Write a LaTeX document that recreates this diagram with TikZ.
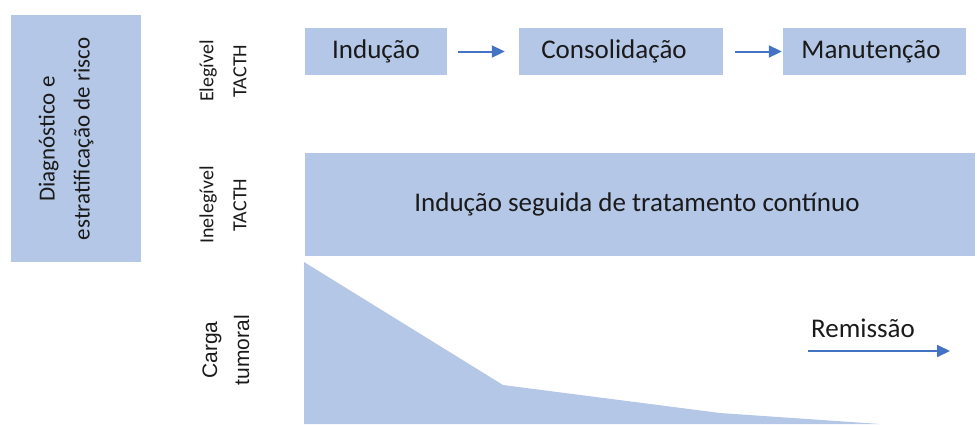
\documentclass[tikz,border=0pt]{standalone}
\usepackage{fontspec}
\setmainfont{Carlito}
\newfontfamily\arialf{Liberation Sans}
\usetikzlibrary{arrows.meta}
\definecolor{boxblue}{HTML}{B4C7E7}
\definecolor{arrblue}{HTML}{4472C4}
\definecolor{txt}{HTML}{1A1A1A}
\begin{document}
\begin{tikzpicture}[x=1pt,y=-1pt,
  box/.style={fill=boxblue, draw=none, inner sep=0pt, text=txt, font=\fontsize{27}{32}\selectfont},
  arr/.style={draw=arrblue, line width=2pt, -{Triangle[length=13pt,width=12pt]}},
  vlab/.style={rotate=90, align=center, text=txt, inner sep=0pt, font=\fontsize{20}{33}\selectfont}]
\useasboundingbox (0,0) rectangle (977,424);
% left box
\node[box, minimum width=130pt, minimum height=247pt] (diag) at (76,138.5) {};
\node[rotate=90, align=center, text=txt, inner sep=0pt, font=\fontsize{23}{35}\selectfont] (diagt) at (66,139) {Diagnóstico e\\estratificação de risco};
% side labels
\node[vlab] (eleg) at (223,71) {Elegível\\TACTH};
\node[vlab] (ineleg) at (223,205) {Inelegível\\TACTH};
\node[vlab, font=\arialf\fontsize{21}{32}\selectfont] (carga) at (226,350) {Carga\\tumoral};
% top row
\node[box, minimum width=142pt, minimum height=47pt] (ind) at (376,51.5) {Indução};
\node[box, minimum width=204pt, minimum height=47pt] (cons) at (621,51.5) {Consolidação\hspace*{14pt}};
\node[box, minimum width=183pt, minimum height=47pt] (man) at (874.5,51.5) {Manutenção\hspace*{7pt}};
\draw[arr, shorten <=11pt, shorten >=14pt] (ind) -- (cons);
\draw[arr, shorten <=12pt, shorten >=1pt] (cons) -- (man);
% big box
\node[box, minimum width=670pt, minimum height=103pt] (cont) at (640,204.5) {Indução seguida de tratamento contínuo\hspace*{6pt}};
% tumour burden
\fill[boxblue] (304,262) -- (503,385) -- (720,413) -- (880,424) -- (304,424) -- cycle;
\coordinate (r0) at (808,351);
\coordinate (r1) at (950,351);
\draw[arr] (r0) -- (r1);
\node[text=txt, inner sep=0pt, font=\fontsize{27}{32}\selectfont, anchor=base] (rem) at (863,337) {Remissão};
\end{tikzpicture}
\end{document}
